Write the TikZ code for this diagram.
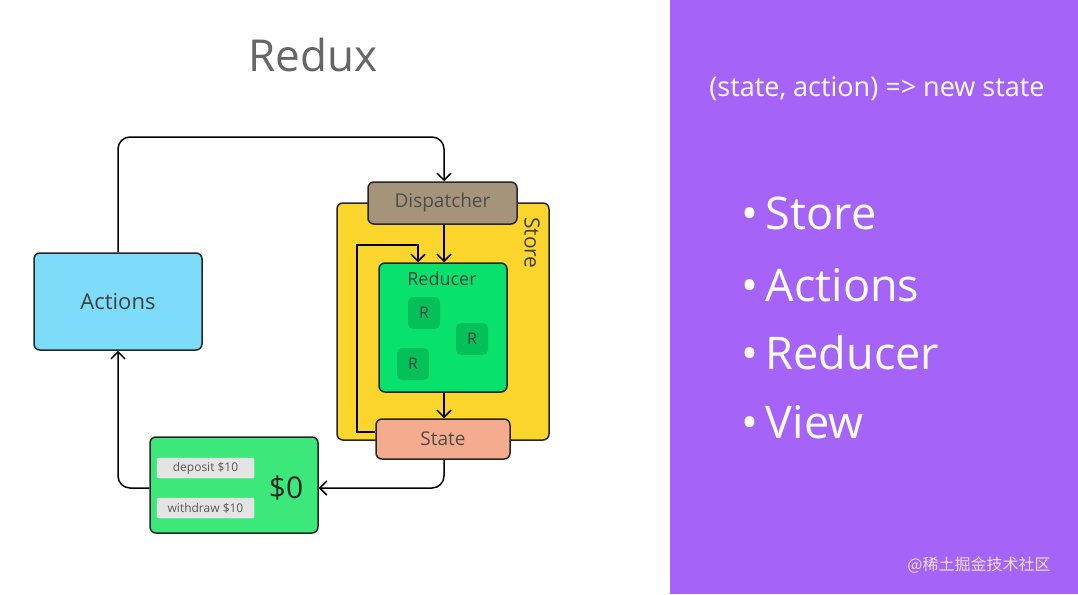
\documentclass[tikz,border=0pt]{standalone}
\usepackage{fontspec}
\setmainfont{Open Sans}
\newfontfamily\cjk{Noto Sans CJK SC}
\usetikzlibrary{arrows.meta}
\definecolor{purp}{RGB}{165,99,248}
\definecolor{actc}{RGB}{125,220,250}
\definecolor{storec}{RGB}{252,213,45}
\definecolor{dispc}{RGB}{166,148,122}
\definecolor{redc}{RGB}{8,226,108}
\definecolor{rc}{RGB}{4,192,88}
\definecolor{statec}{RGB}{245,172,142}
\definecolor{bankc}{RGB}{60,232,122}
\definecolor{btnc}{RGB}{228,228,228}
\begin{document}
\begin{tikzpicture}[x=1pt,y=-1pt,
  box/.style={draw=black!85,line width=1.5pt,rounded corners=6pt},
  conn/.style={line width=1.5pt,-{Straight Barb[length=7pt,width=14pt]}},
  btn/.style={fill=btnc,draw=white,rounded corners=2pt,font=\fontsize{12}{13}\selectfont,text=black!65},
  rr/.style={fill=rc,rounded corners=5pt,minimum size=32pt,inner sep=0pt,font=\fontsize{16}{17}\selectfont,text=black!75}]
\useasboundingbox (0,0) rectangle (1078,594);
\fill[white] (0,0) rectangle (670,594);
\fill[purp] (670,0) rectangle (1078,594);
\node[text=black!60,font=\fontsize{44}{50}\selectfont] (title) at (313,55) {Redux};
% boxes
\node[box,fill=storec,minimum width=212pt,minimum height=237pt] (store) at (443,321.5) {};
\node[rotate=-90,font=\fontsize{21}{22}\selectfont,text=black!75] (storel) at (532,243) {Store};
\node[box,fill=actc,minimum width=168pt,minimum height=97pt,font=\fontsize{22}{24}\selectfont,text=black!75] (act) at (118,301.5) {Actions};
\node[box,fill=dispc,minimum width=149pt,minimum height=42pt,font=\fontsize{19}{20}\selectfont,text=black!70] (disp) at (442.5,203) {Dispatcher};
\node[box,fill=redc,minimum width=128pt,minimum height=129pt] (red) at (443,327.5) {};
\node[font=\fontsize{18}{18}\selectfont,text=black!75] (redl) at (442,279) {Reducer};
\node[rr] (r1) at (424,313) {R};
\node[rr] (r2) at (472,339) {R};
\node[rr] (r3) at (413,364) {R};
\node[box,fill=statec,minimum width=134pt,minimum height=40pt,font=\fontsize{19}{20}\selectfont,text=black!70] (state) at (443,439) {State};
\node[box,fill=bankc,minimum width=168pt,minimum height=96pt] (bank) at (234,485) {};
\node[btn,minimum width=97pt,minimum height=20pt] (dep) at (205.5,468) {deposit \$10};
\node[btn,minimum width=97pt,minimum height=20pt] (wd) at (205.5,508) {withdraw \$10};
\node[font=\fontsize{30}{32}\selectfont,text=black!85] (bal) at (286,488) {\$0};
% connectors
\coordinate (d) at (444,182);
\draw[conn,rounded corners=12pt] (act.north) -- (act.north |- 0,137) -| (disp.north -| d);
\draw[conn] (disp.south -| d) -- (red.north -| d);
\draw[conn] (red.south -| d) -- (state.north -| d);
\draw[conn] (state.west |- 0,432) -- (357,432) |- (418,245) -- (red.north -| 418,0);
\draw[conn,rounded corners=12pt] (state.south -| d) |- (bank.east |- 0,488) ;
\draw[conn,rounded corners=12pt] (bank.west |- 0,488) -| (act.south);
% right text
\node[text=white,font=\fontsize{27}{30}\selectfont] (formula) at (877,89) {(state, action) => new state};
\begin{scope}[every node/.style={text=white,anchor=west,font=\fontsize{45}{50}\selectfont}]
\node (b1) at (738,213) {\textbullet\,Store};
\node (b2) at (738,285) {\textbullet\,Actions};
\node (b3) at (738,353) {\textbullet\,Reducer};
\node (b4) at (738,422) {\textbullet\,View};
\end{scope}
\node[text=white!80!purp,font=\cjk\fontsize{16}{18}\selectfont] (wm) at (979,565) {@稀土掘金技术社区};
\end{tikzpicture}
\end{document}
